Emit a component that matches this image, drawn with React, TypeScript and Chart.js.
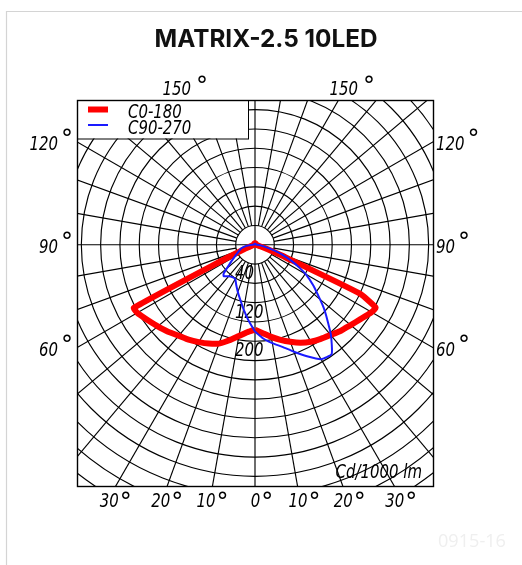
import React, { useEffect, useRef } from "react";
import { Chart, registerables } from "chart.js";

Chart.register(...registerables);

// ---------- data ----------
const TITLE = "MATRIX-2.5 10LED";
const SERIES_NAMES = ["C0-180", "C90-270"];
const SERIES_COLORS = ["#ff0000", "#1a1aff"];
const UNIT_LABEL = "Cd/1000 lm";
const WATERMARK = "0915-16";

// gamma angles (deg from nadir)
const GAMMA = [0, 5, 10, 15, 20, 25, 30, 35, 40, 45, 47.5, 50, 55, 60, 62.5, 65, 67.5, 70, 72.5, 75, 80, 85, 90, 100, 110, 120, 130, 140, 150, 160, 170, 180];

// intensities, cd/1000 lm
const C0 = [176, 184, 194, 204, 214, 224, 232, 238, 244, 252, 255, 259, 268, 279, 282, 240, 70, 28, 14, 8, 5, 3, 2, 2, 2, 2, 2, 2, 3, 3, 3, 3];
const C180 = [176, 182, 192, 205, 218, 226, 233, 240, 246, 255, 259, 263, 272, 282, 283, 60, 25, 12, 8, 6, 4, 3, 2, 2, 2, 2, 2, 2, 3, 3, 3, 3];
const C90 = [180, 195, 207, 219, 236, 255, 274, 277, 245, 209, 193, 176, 148, 121, 105, 90, 74, 60, 46, 33, 17, 8, 4, 2, 2, 2, 2, 2, 2, 2, 2, 2];
const C270 = [180, 157, 136, 118, 104, 92, 82, 82, 85, 92, 88, 76, 60, 48, 44, 40, 37, 34, 32, 30, 22, 12, 4, 2, 2, 2, 2, 2, 2, 2, 2, 2];

// grid / axis
const RING_STEP = 40;
const RING_MAX = 680;
const RAY_STEP = 10;
const RING_LABELS = [40, 120, 200];
const SIDE_ANGLES = [60, 90, 120];
const TOP_ANGLES = [150];
const BOTTOM_ANGLES = [-30, -20, -10, 0, 10, 20, 30];
const X_RANGE = [-369, 369];
const Y_RANGE = [-500, 300];

// ---------- helpers ----------
const rad = (d: number) => (d * Math.PI) / 180;
function halfPoints(values: number[], side: number) {
  return GAMMA.map((g, i) => ({
    x: side * values[i] * Math.sin(rad(g)),
    y: -values[i] * Math.cos(rad(g)),
  }));
}
function curve(right: number[], left: number[]) {
  return [...halfPoints(right, 1), ...halfPoints(left, -1).reverse()];
}

const LABEL_FONT = "italic 20px 'DejaVu Sans Condensed', 'Liberation Sans', sans-serif";
const DEG_FONT = "24px 'DejaVu Sans', sans-serif";
const SX = 0.83; // narrow CAD-like lettering

function textW(ctx: CanvasRenderingContext2D, s: string) {
  ctx.font = LABEL_FONT;
  return ctx.measureText(s).width * SX;
}
// draws narrow italic text, left edge at x
function narrowText(ctx: CanvasRenderingContext2D, s: string, x: number, base: number) {
  ctx.save();
  ctx.font = LABEL_FONT;
  ctx.textAlign = "left";
  ctx.textBaseline = "alphabetic";
  ctx.translate(x, base);
  ctx.scale(SX, 1);
  ctx.fillText(s, 0, 0);
  ctx.restore();
}

function degLabel(ctx: CanvasRenderingContext2D, num: string, x: number, base: number, align: "left" | "right" | "center", gap: number, raise: number) {
  const wNum = textW(ctx, num);
  ctx.font = DEG_FONT;
  const wDeg = ctx.measureText("°").width;
  const total = wNum + gap + wDeg;
  let x0 = x;
  if (align === "right") x0 = x - total;
  if (align === "center") x0 = x - total / 2;
  narrowText(ctx, num, x0, base);
  ctx.font = DEG_FONT;
  ctx.textAlign = "left";
  ctx.textBaseline = "alphabetic";
  ctx.fillText("°", x0 + wNum + gap, base - raise);
}

const polarPlugin = {
  id: "polarGrid",
  beforeDraw(chart: any) {
    const { ctx, width, height } = chart;
    ctx.save();
    ctx.fillStyle = "#ffffff";
    ctx.fillRect(0, 0, width, height);
    // outer frame
    ctx.strokeStyle = "#d4d4d4";
    ctx.lineWidth = 1.2;
    ctx.beginPath();
    ctx.moveTo(6.5, height);
    ctx.lineTo(6.5, 11.5);
    ctx.lineTo(width, 11.5);
    ctx.stroke();
    // title
    ctx.fillStyle = "#111111";
    let size = 26;
    ctx.font = `bold ${size}px Inter, 'Open Sans', sans-serif`;
    const w = ctx.measureText(TITLE).width;
    size = Math.min(28, (size * 223) / w);
    ctx.font = `bold ${size}px Inter, 'Open Sans', sans-serif`;
    ctx.textAlign = "center";
    ctx.textBaseline = "alphabetic";
    ctx.fillText(TITLE, 266, 47);
    // watermark
    ctx.fillStyle = "#efefef";
    let ws = 22;
    ctx.font = `${ws}px 'Open Sans', sans-serif`;
    const ww = ctx.measureText(WATERMARK).width;
    ws = (ws * 68) / ww;
    ctx.font = `${ws}px 'Open Sans', sans-serif`;
    ctx.textAlign = "left";
    ctx.fillText(WATERMARK, 438, 547);
    ctx.restore();
  },
  beforeDatasetsDraw(chart: any) {
    const { ctx, chartArea: a, scales } = chart;
    const xs = scales.x, ys = scales.y;
    const cx = xs.getPixelForValue(0), cy = ys.getPixelForValue(0);
    const P = (r: number, deg: number) => [
      xs.getPixelForValue(r * Math.sin(rad(deg))),
      ys.getPixelForValue(-r * Math.cos(rad(deg))),
    ];
    ctx.save();
    ctx.beginPath();
    ctx.rect(a.left, a.top, a.right - a.left, a.bottom - a.top);
    ctx.clip();
    ctx.strokeStyle = "#000000";
    ctx.lineWidth = 1.15;
    for (let r = RING_STEP; r <= RING_MAX; r += RING_STEP) {
      const rx = xs.getPixelForValue(r) - cx;
      const ry = cy - ys.getPixelForValue(r);
      ctx.beginPath();
      ctx.ellipse(cx, cy, rx, ry, 0, 0, Math.PI * 2);
      ctx.stroke();
    }
    for (let d = 0; d < 360; d += RAY_STEP) {
      const axis = d % 90 === 0;
      const r0 = axis ? 0 : RING_STEP;
      const [x0, y0] = P(r0, d);
      const [x1, y1] = P(2000, d);
      ctx.beginPath();
      ctx.moveTo(x0, y0);
      ctx.lineTo(x1, y1);
      ctx.stroke();
    }
    // ring labels
    ctx.fillStyle = "#000000";
    RING_LABELS.forEach((v) => {
      const y = ys.getPixelForValue(-v);
      narrowText(ctx, String(v), cx - 20, y + 15);
    });
    ctx.restore();
  },
  afterDatasetsDraw(chart: any) {
    const { ctx, chartArea: a, scales } = chart;
    const xs = scales.x, ys = scales.y;
    const cx = xs.getPixelForValue(0), cy = ys.getPixelForValue(0);
    ctx.save();
    // legend box
    const lx0 = a.left, ly0 = a.top, lx1 = 248, ly1 = 138.5;
    ctx.fillStyle = "#ffffff";
    ctx.fillRect(lx0, ly0, lx1 - lx0, ly1 - ly0);
    ctx.strokeStyle = "#000000";
    ctx.lineWidth = 1;
    ctx.strokeRect(lx0 + 0.5, ly0 + 0.5, lx1 - lx0, ly1 - ly0);
    ctx.lineCap = "butt";
    ctx.strokeStyle = SERIES_COLORS[0];
    ctx.lineWidth = 6;
    ctx.beginPath();
    ctx.moveTo(88, 109.5);
    ctx.lineTo(108, 109.5);
    ctx.stroke();
    ctx.strokeStyle = SERIES_COLORS[1];
    ctx.lineWidth = 2;
    ctx.beginPath();
    ctx.moveTo(88, 125);
    ctx.lineTo(108, 125);
    ctx.stroke();
    ctx.fillStyle = "#000000";
    narrowText(ctx, SERIES_NAMES[0], 128, 117.5);
    narrowText(ctx, SERIES_NAMES[1], 128, 134);

    // box border
    ctx.strokeStyle = "#000000";
    ctx.lineWidth = 1.4;
    ctx.strokeRect(a.left + 0.5, a.top + 0.5, a.right - a.left, a.bottom - a.top);

    // unit label (right aligned)
    const uw = textW(ctx, UNIT_LABEL);
    narrowText(ctx, UNIT_LABEL, a.right - 11 - uw, a.bottom - 8);

    // angle labels - top
    const halfW = a.right - cx;
    TOP_ANGLES.forEach((g) => {
      const dx = (cy - a.top) * Math.tan(rad(180 - g));
      [-1, 1].forEach((s) => {
        const hx = cx + s * dx;
        degLabel(ctx, String(g), hx - 9, a.top - 5, "left", 5, 1);
      });
    });
    // sides
    SIDE_ANGLES.forEach((g) => {
      const dy = halfW / Math.tan(rad(g));
      const hy = cy + dy;
      degLabel(ctx, String(g), a.left - 4, hy + 8, "right", 3, 3);
      degLabel(ctx, String(g), a.right + 3, hy + 8, "left", 3, 3);
    });
    // bottom
    BOTTOM_ANGLES.forEach((g) => {
      const hx = cx + (a.bottom - cy) * Math.tan(rad(g));
      const c = g < 0 ? hx : hx + 7;
      degLabel(ctx, String(Math.abs(g)), c, a.bottom + 21, "center", 1, -3);
    });
    ctx.restore();
  },
};

export default function App() {
  const ref = useRef<HTMLCanvasElement | null>(null);
  useEffect(() => {
    if (!ref.current) return;
    const chart = new Chart(ref.current, {
      type: "scatter",
      data: {
        datasets: [
          {
            label: SERIES_NAMES[0],
            data: curve(C0, C180),
            showLine: true,
            borderColor: SERIES_COLORS[0],
            backgroundColor: SERIES_COLORS[0],
            borderWidth: 6,
            pointRadius: 0,
            tension: 0.15,
            borderJoinStyle: "round",
            order: 2,
          },
          {
            label: SERIES_NAMES[1],
            data: curve(C90, C270),
            showLine: true,
            borderColor: SERIES_COLORS[1],
            backgroundColor: SERIES_COLORS[1],
            borderWidth: 2,
            pointRadius: 0,
            tension: 0.15,
            borderJoinStyle: "round",
            order: 1,
          },
        ],
      },
      options: {
        responsive: false,
        animation: false,
        devicePixelRatio: 1,
        events: [],
        layout: { padding: { left: 77, right: 89, top: 100, bottom: 79 } },
        scales: {
          x: { type: "linear", min: X_RANGE[0], max: X_RANGE[1], display: false },
          y: { type: "linear", min: Y_RANGE[0], max: Y_RANGE[1], display: false },
        },
        plugins: {
          legend: { display: false },
          tooltip: { enabled: false },
          title: { display: false },
        },
      },
      plugins: [polarPlugin],
    } as any);
    return () => chart.destroy();
  }, []);
  return (
    <div style={{ position: "absolute", left: 0, top: 0, width: 522, height: 565 }}>
      <canvas ref={ref} width={522} height={565} style={{ width: 522, height: 565, display: "block" }} />
    </div>
  );
}
